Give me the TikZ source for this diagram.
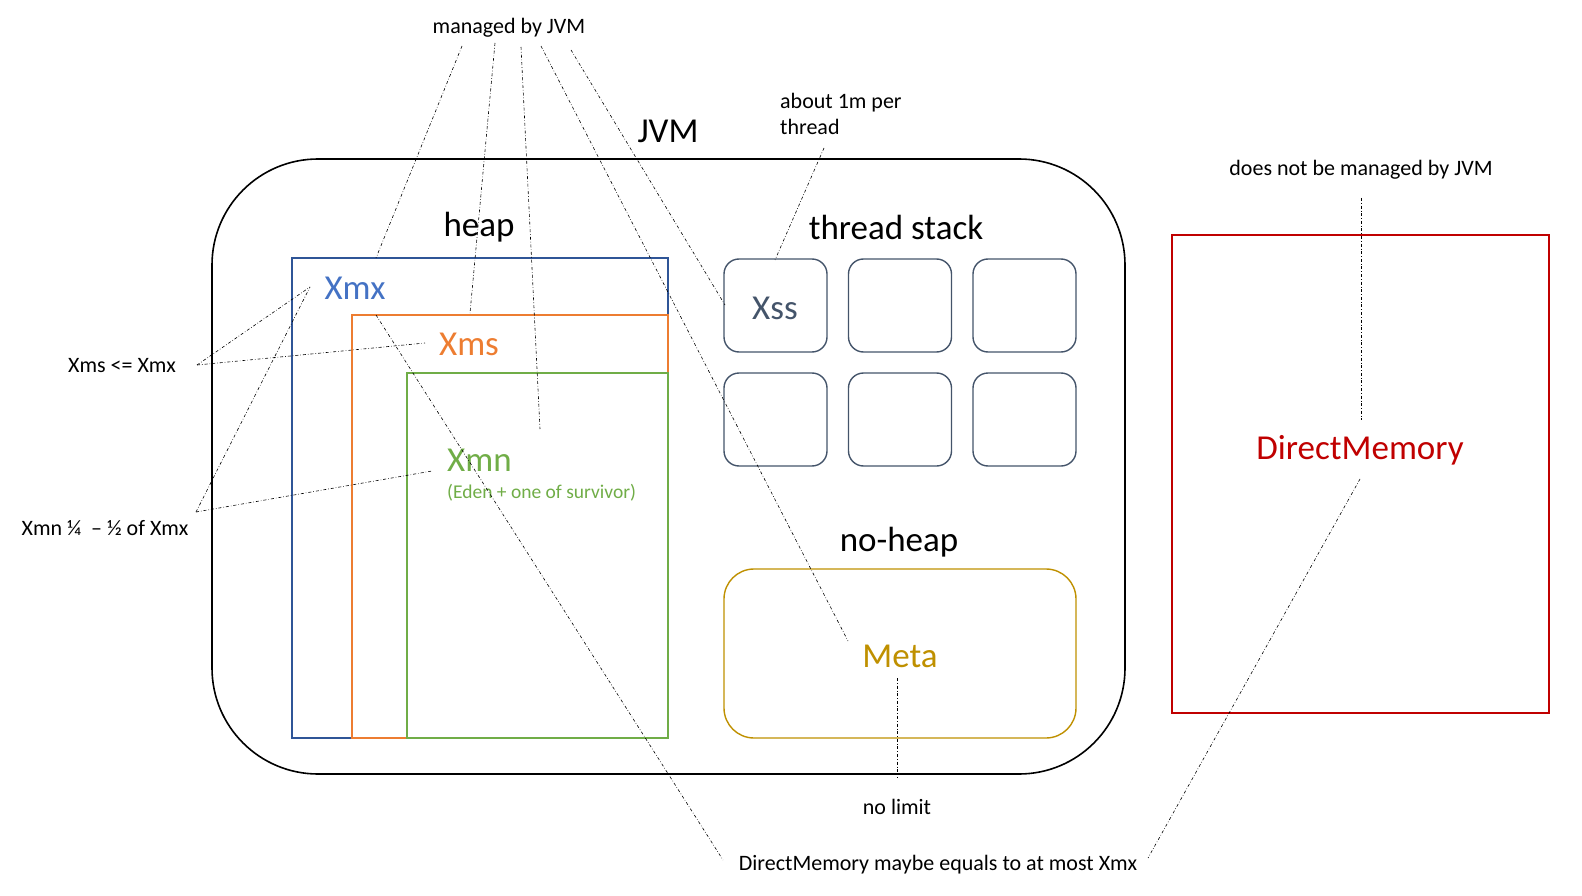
\documentclass[tikz,border=0pt]{standalone}
\usepackage{fontspec}
\setmainfont{Carlito}
\definecolor{cblue}{HTML}{2F5597}
\definecolor{cbluet}{HTML}{4472C4}
\definecolor{corange}{HTML}{ED7D31}
\definecolor{cgreen}{HTML}{70AD47}
\definecolor{cslate}{HTML}{44546A}
\definecolor{cgold}{HTML}{BF9000}
\definecolor{cred}{HTML}{C00000}
\tikzset{
  big/.style={font=\fontsize{35}{40}\selectfont, inner sep=0pt},
  small/.style={font=\fontsize{22}{26}\selectfont, inner sep=0pt},
  rect/.style={draw, line width=1.4pt, inner sep=0pt, minimum width=#1},
  tbox/.style={draw=cslate, line width=1.4pt, rounded corners=15pt, minimum width=103pt, minimum height=93pt, inner sep=0pt},
  ddot/.style={line width=0.6pt, dash pattern=on 3pt off 2pt on 0.6pt off 2pt},
}
\begin{document}
\begin{tikzpicture}[x=1pt,y=-1pt]
\useasboundingbox (0,0) rectangle (1582,896);
% JVM outer
\node[draw, line width=1.6pt, rounded corners=106pt, minimum width=913pt, minimum height=615pt, inner sep=0pt] (jvm) at (668.5,466.5) {};
\node[big] (jvmlbl) at (668,131) {JVM};
\node[big] (heap) at (479,227) {heap};
\node[big] (tstack) at (896,227) {thread stack};
% heap boxes
\node[rect=376pt, draw=cblue, minimum height=480pt] (bxmx) at (480,498) {};
\node[rect=316pt, draw=corange, minimum height=423pt] (bxms) at (510,526.5) {};
\node[rect=261pt, draw=cgreen, minimum height=365pt] (bxmn) at (537.5,555.5) {};
\node[big, text=cbluet] (xmx) at (355,288) {Xmx};
\node[big, text=corange] (xms) at (469,344) {Xms};
\node[big, text=cgreen, anchor=west] (xmn) at (447,460) {Xmn};
\node[font=\fontsize{19.5}{23}\selectfont, inner sep=0pt, text=cgreen, anchor=west] (eden) at (447,493) {(Eden + one of survivor)};
% thread stacks
\node[tbox] (t1) at (775.5,305.5) {};
\node[tbox] (t2) at (900,305.5) {};
\node[tbox] (t3) at (1024.5,305.5) {};
\node[tbox] (t4) at (775.5,419.5) {};
\node[tbox] (t5) at (900,419.5) {};
\node[tbox] (t6) at (1024.5,419.5) {};
\node[big, text=cslate] (xss) at (775,308) {Xss};
% no-heap
\node[big] (noheap) at (899,542) {no-heap};
\node[draw=cgold, line width=1.4pt, rounded corners=30pt, minimum width=352pt, minimum height=169pt, inner sep=0pt] (metabox) at (900,653.5) {};
\node[big, text=cgold] (meta) at (900,656) {Meta};
% direct memory
\node[rect=377pt, draw=cred, minimum height=478pt] (dmbox) at (1360.5,474) {};
\node[big, text=cred] (dm) at (1360,450) {DirectMemory};
% annotations
\node[small] (managed) at (509,28) {managed by JVM};
\node[small, align=left, anchor=north west, font=\fontsize{22}{26}\selectfont] (about) at (780,93) {about 1m per\\thread};
\node[small] (doesnot) at (1361,170) {does not be managed by JVM};
\node[small] (xmsle) at (122,366) {Xms <= Xmx};
\node[small] (xmnfrac) at (105,528) {Xmn ¼ \ – ½ of Xmx};
\node[small] (nolimit) at (897,807) {no limit};
\node[small] (dmeq) at (938,865) {DirectMemory maybe equals to at most Xmx};
% connector coordinates
\coordinate (m1) at (462,46); \coordinate (m2) at (495,43); \coordinate (m3) at (521,47);
\coordinate (m4) at (541,46); \coordinate (m5) at (571,50);
\coordinate (e1) at (376,258); \coordinate (e2) at (470,313); \coordinate (e3) at (540,429);
\coordinate (e4) at (848,641); \coordinate (e5) at (725,305);
\coordinate (ab) at (824,148); \coordinate (abe) at (775,260);
\coordinate (xp) at (310,287);
\coordinate (l1) at (197,365); \coordinate (l1b) at (425,343);
\coordinate (l2) at (196,512); \coordinate (l2b) at (432,471);
\coordinate (dx) at (376,315); \coordinate (dxe) at (723,860);
\coordinate (dm1) at (1360,479); \coordinate (dm1e) at (1148,858);
\coordinate (dn1) at (1361,198); \coordinate (dn2) at (1361,420);
\coordinate (nl1) at (897,678); \coordinate (nl2) at (897,777);
\draw[ddot] (m1) -- (e1);
\draw[ddot] (m2) -- (e2);
\draw[ddot] (m3) -- (e3);
\draw[ddot] (m4) -- (e4);
\draw[ddot] (m5) -- (e5);
\draw[ddot] (ab) -- (abe);
\draw[ddot] (l1) -- (xp);
\draw[ddot] (l1) -- (l1b);
\draw[ddot] (l2) -- (xp);
\draw[ddot] (l2) -- (l2b);
\draw[ddot] (dx) -- (dxe);
\draw[ddot] (dm1) -- (dm1e);
\draw[ddot] (dn1) -- (dn2);
\draw[ddot] (nl1) -- (nl2);
\end{tikzpicture}
\end{document}
